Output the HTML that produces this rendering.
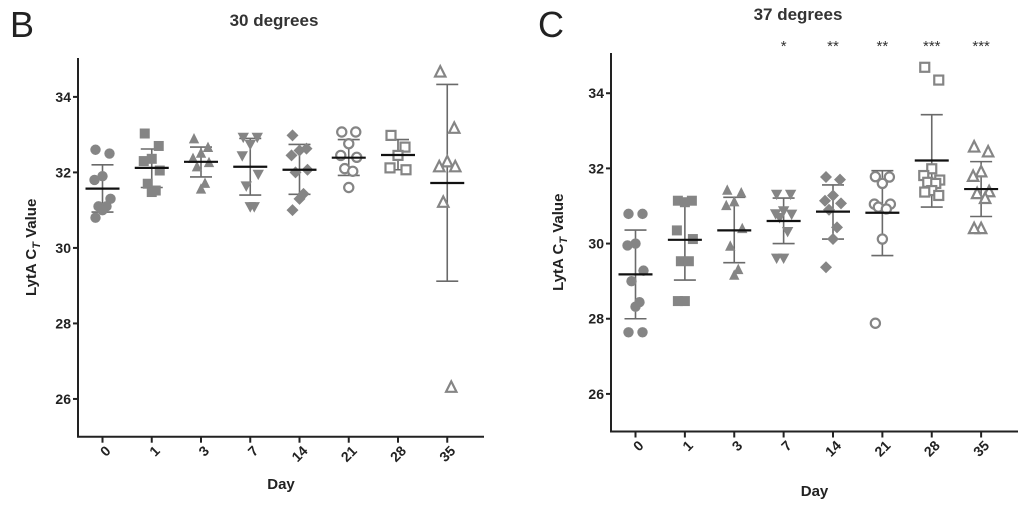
<!DOCTYPE html>
<html><head><meta charset="utf-8">
<style>
html,body{margin:0;padding:0;background:#fff;}
svg{display:block;font-family:"Liberation Sans",Arial,sans-serif;}
</style></head>
<body>
<svg id="fig" width="1024" height="508" viewBox="0 0 1024 508">
  <text x="10" y="37" font-size="36" fill="#222">B</text>
  <text x="274" y="26" font-size="17" font-weight="bold" fill="#333" text-anchor="middle">30 degrees</text>
  <text x="538" y="37" font-size="36" fill="#222">C</text>
  <text x="798" y="20" font-size="17" font-weight="bold" fill="#333" text-anchor="middle">37 degrees</text>
  <g id="left"></g>
  <g id="right"></g>
</svg>
<script>
const categories = ["0","1","3","7","14","21","28","35"];
const yTicks = [26,28,30,32,34];
const markers = ["circle","square","triangle","invtriangle","diamond","ocircle","osquare","otriangle"];
const data30 = [
  [32.6,32.5,31.9,31.8,31.3,31.1,31.1,31.0,30.8],
  [33.03,32.7,32.36,32.3,32.05,31.7,31.52,31.48],
  [32.88,32.65,32.5,32.36,32.25,32.14,31.7,31.55],
  [32.94,32.94,32.75,32.45,31.96,31.65,31.1,31.1],
  [32.98,32.63,32.58,32.45,32.07,32.0,31.43,31.3,31.0],
  [33.07,33.07,32.76,32.45,32.4,32.1,32.03,31.6],
  [32.98,32.67,32.45,32.12,32.07],
  [34.65,33.16,32.27,32.14,32.14,31.2,26.3]
];
const mean30 = [31.57,32.12,32.28,32.15,32.07,32.39,32.46,31.72];
const sdHi30 = [32.2,32.62,32.67,32.9,32.74,32.87,32.87,34.33];
const sdLo30 = [30.95,31.6,31.88,31.4,31.42,31.92,32.07,29.12];
const data37 = [
  [30.79,30.79,30.0,29.95,29.28,29.0,28.44,28.32,27.64,27.64],
  [31.14,31.14,31.1,30.35,30.12,29.53,29.53,28.47,28.47],
  [31.41,31.34,31.1,31.0,30.39,29.92,29.3,29.15],
  [31.32,31.32,30.88,30.8,30.79,30.7,30.33,29.62,29.62],
  [31.77,31.7,31.28,31.14,31.07,30.9,30.43,30.12,29.37],
  [31.78,31.77,31.6,31.05,31.05,30.97,30.92,30.12,27.88],
  [34.69,34.35,31.99,31.81,31.69,31.63,31.6,31.41,31.37,31.28],
  [32.56,32.43,31.9,31.78,31.37,31.32,31.19,30.39,30.39]
];
const mean37 = [29.18,30.1,30.35,30.6,30.85,30.82,32.21,31.45];
const sdHi37 = [30.36,31.12,31.23,31.21,31.56,31.94,33.43,32.18];
const sdLo37 = [28.0,29.03,29.49,30.0,30.12,29.68,30.97,30.72];
const stars37 = ["","","","*","**","**","***","***"];

const NS="http://www.w3.org/2000/svg";
function mk(parent,tag,attrs){const e=document.createElementNS(NS,tag);for(const k in attrs)e.setAttribute(k,attrs[k]);parent.appendChild(e);return e;}

function drawChart(g,cfg){
  const {x0,x1,yTop,yBot,vTop,vBot,data,mean,hi,lo,stars,yLabelX,dayY} = cfg;
  const y = v => yBot - (v - vBot)/(vTop - vBot)*(yBot - yTop);
  const step = (x1 - x0 - 12)/categories.length;
  const x = i => x0 + 24.5 + i*step;
  const ax=mk(g,"path",{d:`M${x0} ${yTop} L${x0} ${yBot} L${x1} ${yBot}`,fill:"none",stroke:"#222","stroke-width":2});
  
  
  yTicks.forEach(t=>{
    const tk=mk(g,"line",{x1:x0-5,x2:x0,y1:y(t),y2:y(t),stroke:"#222","stroke-width":2});
    
    
    const tl=mk(g,"text",{x:x0-7,y:y(t)+5,"font-size":14,"font-weight":"bold","text-anchor":"end",fill:"#222"});
    tl.textContent=t;
    
    
  });
  const yl=mk(g,"text",{x:0,y:0,"font-size":15,"font-weight":"bold","text-anchor":"middle",fill:"#222",transform:`translate(${yLabelX},${(yTop+yBot)/2}) rotate(-90)`});
  yl.innerHTML='LytA C<tspan font-size="11" dy="4" font-style="italic">T</tspan><tspan dy="-4"> Value</tspan>';
  
  
  const xl=mk(g,"text",{x:(x0+x1)/2,y:dayY,"font-size":15,"font-weight":"bold","text-anchor":"middle",fill:"#222"});
  xl.textContent="Day";
  
  
  categories.forEach((c,i)=>{
    const cx=x(i);
    const tk=mk(g,"line",{x1:cx,x2:cx,y1:yBot,y2:yBot+6,stroke:"#222","stroke-width":2});
    
    
    const tl=mk(g,"text",{x:0,y:0,"font-size":14,"font-weight":"bold","text-anchor":"end",fill:"#222",transform:`translate(${cx+9},${yBot+15}) rotate(-45)`});
    tl.textContent=c;
    
    
    const col="#6a6a6a";
    const eb=mk(g,"path",{d:`M${cx} ${y(hi[i])} L${cx} ${y(lo[i])} M${cx-11} ${y(hi[i])} L${cx+11} ${y(hi[i])} M${cx-11} ${y(lo[i])} L${cx+11} ${y(lo[i])}`,stroke:col,"stroke-width":1.6,fill:"none"});
    
    
    const vals=data[i];
    vals.forEach((v,j)=>{
      const off=[-7,7,0,-8,8,-4,4,0,-7,7][j%10];
      drawMarker(g,markers[i],cx+off,y(v),c);
    });
    const ml=mk(g,"line",{x1:cx-17,x2:cx+17,y1:y(mean[i]),y2:y(mean[i]),stroke:"#111","stroke-width":2.2});
    
    
    if(stars && stars[i]){
      const st=mk(g,"text",{x:cx,y:yTop-2,"font-size":15,"text-anchor":"middle",fill:"#333"});
      st.textContent=stars[i];
      
      
    }
  });
}
function drawMarker(g,type,cx,cy,c){
  const col="#858585"; let e;
  const open=type[0]==="o"; const fill=open?"#fff":col;
  const s=5.2;
  if(type.endsWith("circle")) e=mk(g,"circle",{cx:cx,cy:cy,r:open?4.6:5.2,fill:fill,stroke:col,"stroke-width":open?2.2:0});
  else if(type.endsWith("square")) e=mk(g,"rect",{x:cx-(open?4.5:5),y:cy-(open?4.5:5),width:open?9:10,height:open?9:10,fill:fill,stroke:col,"stroke-width":open?2.2:0});
  else if(type==="invtriangle") e=mk(g,"polygon",{points:`${cx-s-0.5},${cy-s+1} ${cx+s+0.5},${cy-s+1} ${cx},${cy+s+1}`,fill:fill});
  else if(type.endsWith("triangle")) e=mk(g,"polygon",{points:`${cx-s},${cy+s-1} ${cx+s},${cy+s-1} ${cx},${cy-s-1}`,fill:fill,stroke:col,"stroke-width":open?2.2:0});
  else e=mk(g,"polygon",{points:`${cx},${cy-6} ${cx+6},${cy} ${cx},${cy+6} ${cx-6},${cy}`,fill:fill});
  
  
}
drawChart(document.getElementById("left"),{x0:78,x1:484,yTop:58,yBot:436.7,vTop:35.03,vBot:25,data:data30,mean:mean30,hi:sdHi30,lo:sdLo30,stars:null,yLabelX:36,dayY:489});
drawChart(document.getElementById("right"),{x0:611,x1:1018,yTop:53,yBot:431.5,vTop:35.07,vBot:25,data:data37,mean:mean37,hi:sdHi37,lo:sdLo37,stars:stars37,yLabelX:563,dayY:496});
</script>
</body></html>
